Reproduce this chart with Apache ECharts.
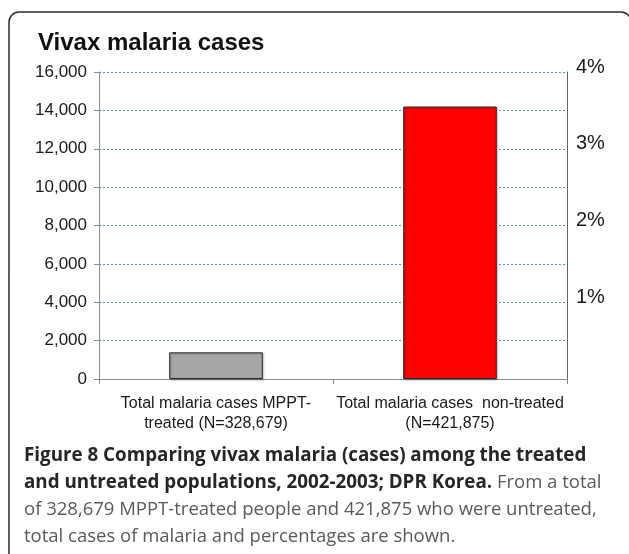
<!DOCTYPE html>
<html>
<head>
<meta charset="utf-8">
<style>
  html, body { margin: 0; padding: 0; background: #ffffff; }
  #chart { width: 629px; height: 554px; }
</style>
<script src="https://cdn.jsdelivr.net/npm/echarts@6/dist/echarts.min.js"></script>
</head>
<body>
<div id="chart"></div>
<script>
// Category labels under each bar
const categories = [
  'Total malaria cases MPPT-\ntreated (N=328,679)',
  'Total malaria cases  non-treated\n(N=421,875)'
];
// Vivax malaria cases per group
const cases = [1390, 14200];
const barColors = ['#a6a6a6', '#ff0000'];
// Secondary (percentage) axis range
const percentMin = 0;
const percentMax = 4;
const percentStep = 1;

const chartTitle = 'Vivax malaria cases';
const captionLines = [
  [['b', 'Figure 8 Comparing vivax malaria (cases) among the treated']],
  [['b', 'and untreated populations, 2002-2003; DPR Korea.'], ['n', ' From a total']],
  [['n', 'of 328,679 MPPT-treated people and 421,875 who were untreated,']],
  [['n', 'total cases of malaria and percentages are shown.']]
];

const chart = echarts.init(document.getElementById('chart'), null, { renderer: 'canvas' });

const captionGraphics = captionLines.map((parts, i) => ({
  type: 'text',
  silent: true,
  style: {
    x: 24,
    y: 456 + i * 27,
    verticalAlign: 'middle',
    text: parts.map(p => '{' + p[0] + '|' + p[1] + '}').join(''),
    rich: {
      b: { fontFamily: 'Open Sans', fontWeight: 'bold', fontSize: 18.8, fill: '#262626' },
      n: { fontFamily: 'Open Sans', fontWeight: 'normal', fontSize: 18.5, fill: '#5a5a5a' }
    }
  }
}));

chart.setOption({
  animation: false,
  backgroundColor: '#ffffff',
  title: {
    text: chartTitle,
    left: 33,
    top: 26,
    textStyle: { fontFamily: 'Liberation Sans', fontWeight: 'bold', fontSize: 24, color: '#111111' }
  },
  grid: { left: 99, right: 62, top: 72, bottom: 175 },
  xAxis: {
    type: 'category',
    data: categories,
    boundaryGap: true,
    axisLine: { lineStyle: { color: '#8c8c8c', width: 1 } },
    axisTick: { show: true, alignWithLabel: false, length: 5, lineStyle: { color: '#8c8c8c' } },
    axisLabel: {
      interval: 0,
      margin: 14,
      fontFamily: 'Liberation Sans',
      fontSize: 16,
      lineHeight: 20.5,
      color: '#1a1a1a',
      align: 'center'
    }
  },
  yAxis: [
    {
      type: 'value',
      min: 0,
      max: 16000,
      interval: 2000,
      axisLine: { show: true, lineStyle: { color: '#8c8c8c', width: 1 } },
      axisTick: { show: true, length: 5, lineStyle: { color: '#8c8c8c' } },
      axisLabel: {
        margin: 12,
        fontFamily: 'Liberation Sans',
        fontSize: 17,
        color: '#1a1a1a',
        formatter: v => v.toLocaleString('en-US')
      },
      splitLine: { show: true, lineStyle: { color: '#5b8bd0', width: 1, type: [2, 2] } }
    },
    {
      type: 'value',
      position: 'right',
      min: percentMin,
      max: percentMax,
      interval: percentStep,
      axisLine: { show: true, lineStyle: { color: '#666666', width: 1 } },
      axisTick: { show: false },
      splitLine: { show: false },
      axisLabel: {
        margin: 9,
        fontFamily: 'Liberation Sans',
        fontSize: 20,
        lineHeight: 10,
        color: '#1a1a1a',
        // a blank second line lifts each label slightly above its gridline
        formatter: v => (v === 0 ? '' : v + '%\n ')
      }
    }
  ],
  series: [{
    type: 'bar',
    yAxisIndex: 0,
    barWidth: '40%',
    data: cases.map((v, i) => ({
      value: v,
      itemStyle: {
        color: barColors[i],
        borderColor: '#2a2a2a',
        borderWidth: 1,
        shadowColor: 'rgba(0,0,0,0.25)',
        shadowBlur: 2,
        shadowOffsetX: 1,
        shadowOffsetY: 1
      }
    }))
  }],
  graphic: [
    {
      type: 'rect',
      silent: true,
      shape: { x: 9, y: 12, width: 622, height: 600, r: 10 },
      style: { fill: 'none', stroke: '#2b2b2b', lineWidth: 1.5 }
    }
  ].concat(captionGraphics)
});
</script>
</body>
</html>
